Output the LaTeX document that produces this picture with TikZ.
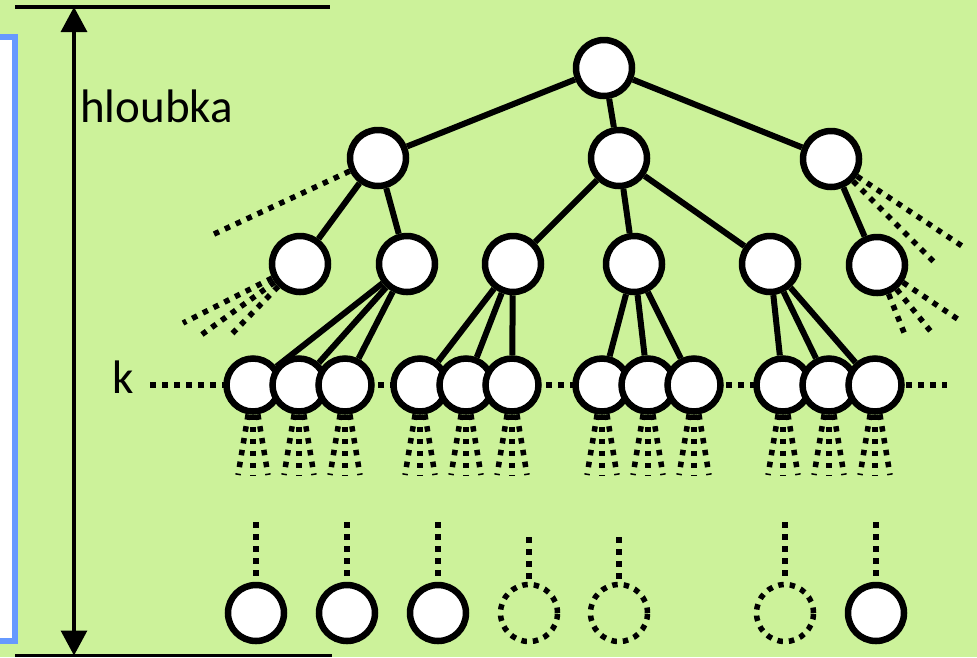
\documentclass[tikz,border=0pt]{standalone}
\usepackage{fontspec}
\setmainfont{Carlito}
\usetikzlibrary{arrows.meta}
\pgfdeclarelayer{bg}
\pgfdeclarelayer{edges}
\pgfsetlayers{bg,edges,main}
\definecolor{bggreen}{RGB}{204,242,154}
\definecolor{rblue}{RGB}{102,153,255}
\tikzset{
  tn/.style={circle,draw=black,fill=white,line width=6.5pt,minimum size=56pt,inner sep=0pt},
  kn/.style={tn,minimum size=53pt},
  dn/.style={circle,draw=black,line width=5.5pt,dash pattern=on 5.5pt off 6pt,minimum size=57pt,inner sep=0pt},
  edge/.style={line width=6pt},
  dots/.style={line width=5.5pt,dash pattern=on 5.5pt off 6.5pt},
  lbl/.style={anchor=base west,inner sep=0pt,font=\fontsize{47}{52}\selectfont},
  thin/.style={line width=3.2pt},
}
\begin{document}
\begin{tikzpicture}[x=1pt,y=-1pt]
\useasboundingbox (0,0) rectangle (977,657);
\begin{pgfonlayer}{bg}
  \fill[bggreen] (0,0) rectangle (977,657);
  \draw[rblue,line width=6pt,fill=white] (-10,37) rectangle (15,641);
\end{pgfonlayer}

% depth marker
\coordinate (tl) at (15,7);
\coordinate (tr) at (330,7);
\coordinate (bl) at (15,655.5);
\coordinate (br) at (332,655.5);
\coordinate (atop) at (74,7);
\coordinate (abot) at (74,655.5);
\draw[thin] (tl) -- (tr);
\draw[thin] (bl) -- (br);
\draw[thin,{Triangle[width=26pt,length=25pt]}-{Triangle[width=26pt,length=25pt]}] (atop) -- (abot);
\node[lbl] (hl) at (80,122) {hloubka};
\node[lbl] (kl) at (112,393) {k};

% tree nodes
\node[tn] (r) at (604,68) {};
\node[tn] (a1) at (378,158) {};
\node[tn] (a2) at (619,158) {};
\node[tn] (a3) at (831,159) {};
\node[tn] (b1) at (300,264) {};
\node[tn] (b2) at (407,264) {};
\node[tn] (b3) at (513,264) {};
\node[tn] (b4) at (634,264) {};
\node[tn] (b5) at (770,264) {};
\node[tn] (b6) at (877,265) {};
\foreach \x [count=\i] in {253,299,345,420,466,512,602,648,694,783,829,875}
  \node[kn] (k\i) at (\x,385) {};
\node[tn] (c1) at (256,613) {};
\node[tn] (c2) at (347,613) {};
\node[tn] (c3) at (438,613) {};
\node[dn] (c4) at (529,613) {};
\node[dn] (c5) at (619,613) {};
\node[dn] (c6) at (785,613) {};
\node[tn] (c7) at (876,613) {};

\begin{pgfonlayer}{edges}
  \draw[edge] (r) -- (a1);
  \draw[edge] (r) -- (a2);
  \draw[edge] (r) -- (a3);
  \draw[edge] (a1) -- (b1);
  \draw[edge] (a1) -- (b2);
  \draw[edge] (a2) -- (b3);
  \draw[edge] (a2) -- (b4);
  \draw[edge] (a2) -- (b5);
  \draw[edge] (a3) -- (b6);
  \foreach \i in {1,2,3} \draw[edge] (b2) -- (k\i);
  \foreach \i in {4,5,6} \draw[edge] (b3) -- (k\i);
  \foreach \i in {7,8,9} \draw[edge] (b4) -- (k\i);
  \foreach \i in {10,11,12} \draw[edge] (b5) -- (k\i);

  % dotted continuations
  \coordinate (kL) at (150,385);
  \coordinate (kR) at (947,385);
  \draw[dots] (kL) -- (kR);
  \coordinate (e1) at (212,235);
  \draw[dots] (a1) -- (e1);
  \coordinate (e2) at (965,248);
  \coordinate (e3) at (935,263);
  \draw[dots] (a3) -- (e2);
  \draw[dots] (a3) -- (e3);
  \coordinate (f1) at (183,323);
  \coordinate (f2) at (197,338);
  \coordinate (f3) at (228,338);
  \foreach \j in {1,2,3} \draw[dots] (b1) -- (f\j);
  \coordinate (g1) at (962,322);
  \coordinate (g2) at (932,333);
  \coordinate (g3) at (905,335);
  \foreach \j in {1,2,3} \draw[dots] (b6) -- (g\j);
  \foreach \x [count=\i] in {253,299,345,420,466,512,602,648,694,783,829,875} {
    \coordinate (h\i a) at (\x-15,475);
    \coordinate (h\i b) at (\x,475);
    \coordinate (h\i c) at (\x+15,475);
    \draw[dots] (k\i) -- (h\i a);
    \draw[dots] (k\i) -- (h\i b);
    \draw[dots] (k\i) -- (h\i c);
  }
  \coordinate (t1) at (256,522);
  \coordinate (t2) at (347,522);
  \coordinate (t3) at (438,522);
  \coordinate (t4) at (529,537);
  \coordinate (t5) at (619,537);
  \coordinate (t6) at (785,522);
  \coordinate (t7) at (876,522);
  \foreach \i in {1,2,3,7} \draw[dots,shorten >=6pt] (t\i) -- (c\i);
  \foreach \i in {4,5,6} \draw[dots] (t\i) -- (c\i);
\end{pgfonlayer}
\end{tikzpicture}
\end{document}
